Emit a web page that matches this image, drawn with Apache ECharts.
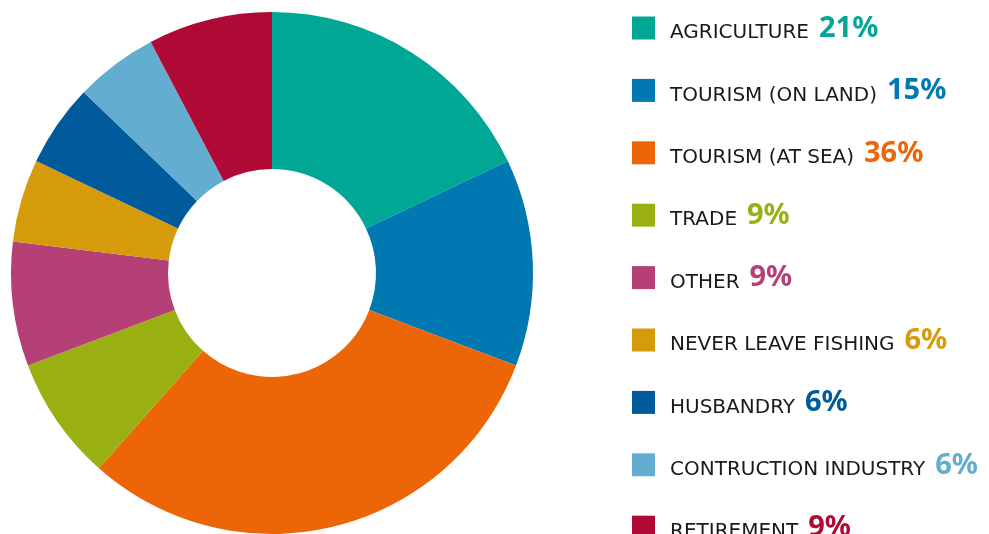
<!DOCTYPE html>
<html>
<head>
<meta charset="utf-8">
<script src="https://cdn.jsdelivr.net/npm/echarts@6/dist/echarts.min.js"></script>
<style>
  html, body { margin: 0; padding: 0; background: #fff; }
  #chart { width: 989px; height: 534px; }
</style>
</head>
<body>
<div id="chart"></div>
<script>
// categories, values (percent as printed), colours
var categories = ['AGRICULTURE', 'TOURISM (ON LAND)', 'TOURISM (AT SEA)', 'TRADE', 'OTHER',
  'NEVER LEAVE FISHING', 'HUSBANDRY', 'CONTRUCTION INDUSTRY', 'RETIREMENT'];
var values = [21, 15, 36, 9, 9, 6, 6, 6, 9];
var colors = ['#00a795', '#0079b2', '#ec6608', '#9ab012', '#b54075',
  '#d59b0a', '#015a9b', '#63add0', '#ae0a35'];

var chart = echarts.init(document.getElementById('chart'));

// rich styles: one per category so the % gets its slice colour
var rich = {
  n: { fontFamily: 'DejaVu Sans', fontSize: 20, color: '#1a1a1a', lineHeight: 30, verticalAlign: 'bottom', padding: [6, 10, 0, 10] }
};
colors.forEach(function (c, i) {
  rich['p' + i] = { fontFamily: 'Noto Sans', fontWeight: 'bold', fontSize: 29, color: c, lineHeight: 30, verticalAlign: 'bottom', padding: [6, 0, 0, 0] };
});

var pieData = categories.map(function (name, i) {
  return { name: name, value: values[i], itemStyle: { color: colors[i] } };
});

chart.setOption({
  animation: false,
  legend: {
    orient: 'vertical',
    left: 632,
    top: 8,
    height: 700,
    padding: 0,
    itemWidth: 23,
    itemHeight: 23,
    itemGap: 27.4,
    icon: 'rect',
    selectedMode: false,
    data: categories,
    formatter: function (name) {
      var i = categories.indexOf(name);
      return '{n|' + name + '}{p' + i + '|' + values[i] + '%}';
    },
    textStyle: { rich: rich }
  },
  series: [{
    type: 'pie',
    center: [272, 273],
    radius: [104, 261],
    startAngle: 90,
    clockwise: true,
    label: { show: false },
    labelLine: { show: false },
    emphasis: { disabled: true },
    itemStyle: { borderWidth: 0 },
    data: pieData
  }]
});
</script>
</body>
</html>
